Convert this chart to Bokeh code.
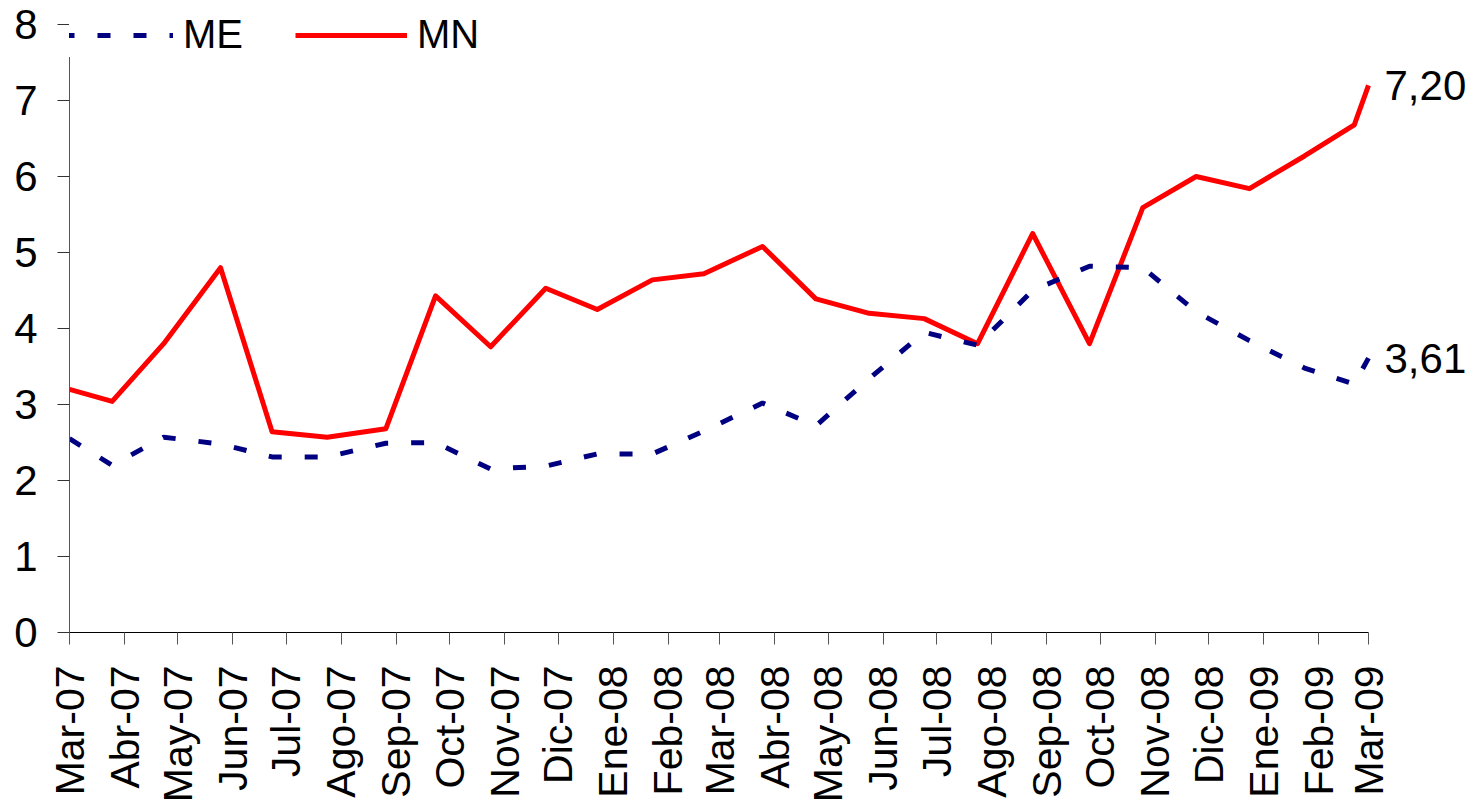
import math
import pandas as pd
from bokeh.plotting import figure
from bokeh.models import Range1d, FixedTicker, Legend, LegendItem, ColumnDataSource, LabelSet
from bokeh.core.properties import value
from bokeh.embed import file_html
from bokeh.resources import INLINE

# ---- data ----
tick_labels = ["Mar-07", "Abr-07", "May-07", "Jun-07", "Jul-07", "Ago-07", "Sep-07",
               "Oct-07", "Nov-07", "Dic-07", "Ene-08", "Feb-08", "Mar-08", "Abr-08",
               "May-08", "Jun-08", "Jul-08", "Ago-08", "Sep-08", "Oct-08", "Nov-08",
               "Dic-08", "Ene-09", "Feb-09", "Mar-09"]
tick_dates = ["2007-03-01", "2007-04-01", "2007-05-01", "2007-06-01", "2007-07-01",
              "2007-08-01", "2007-09-01", "2007-10-01", "2007-11-01", "2007-12-01",
              "2008-01-01", "2008-02-01", "2008-03-01", "2008-04-01", "2008-05-01",
              "2008-06-01", "2008-07-01", "2008-08-01", "2008-09-01", "2008-10-01",
              "2008-11-01", "2008-12-01", "2009-01-01", "2009-02-01", "2009-03-01"]

dates = ["2007-03-01", "2007-03-25", "2007-04-23", "2007-05-25", "2007-06-23",
         "2007-07-24", "2007-08-26", "2007-09-23", "2007-10-24", "2007-11-24",
         "2007-12-23", "2008-01-23", "2008-02-21", "2008-03-25", "2008-04-24",
         "2008-05-24", "2008-06-24", "2008-07-24", "2008-08-24", "2008-09-25",
         "2008-10-25", "2008-11-24", "2008-12-24", "2009-01-24", "2009-02-21",
         "2009-03-01"]
me = [2.55, 2.20, 2.57, 2.48, 2.31, 2.31, 2.49, 2.50, 2.15, 2.19, 2.35, 2.35, 2.65,
      3.02, 2.72, 3.34, 3.95, 3.78, 4.50, 4.82, 4.80, 4.22, 3.84, 3.48, 3.27, 3.61]
mn = [3.20, 3.04, 3.80, 4.80, 2.64, 2.57, 2.68, 4.43, 3.76, 4.53, 4.25, 4.64, 4.72,
      5.08, 4.39, 4.20, 4.13, 3.80, 5.25, 3.80, 5.59, 6.00, 5.84, 6.27, 6.68, 7.20]
y_ticks = [0, 1, 2, 3, 4, 5, 6, 7, 8]

EPOCH = pd.Timestamp("1970-01-01")
def to_days(ds):
    return [int((pd.Timestamp(d) - EPOCH).days) for d in ds]

x = to_days(dates)
tx = to_days(tick_dates)

FONT = "Liberation Sans"

AXIS_W = 1299          # px spanned by the dated axis
EXTRA_W = 100          # room on the right for the end labels
span = tx[-1] - tx[0]
x_end = tx[-1] + span * EXTRA_W / AXIS_W

PLOT_H = 608           # px spanned by 0..8
TOP_PAD = 24           # px above the value 8 (legend row)
y_top = y_ticks[-1]
y_end = y_top * (PLOT_H + TOP_PAD) / PLOT_H

p = figure(frame_width=AXIS_W + EXTRA_W, frame_height=PLOT_H + TOP_PAD,
           x_range=Range1d(tx[0], x_end), y_range=Range1d(0, y_end),
           output_backend="svg", toolbar_location=None,
           min_border_left=69, min_border_top=0, min_border_right=4,
           min_border_bottom=20)
p.outline_line_color = None
p.xgrid.visible = False
p.ygrid.visible = False
p.background_fill_color = "white"
p.border_fill_color = "white"

src = ColumnDataSource(dict(x=x, me=me, mn=mn))
r_mn = p.line("x", "mn", source=src, line_color="#FF0000", line_width=5,
              line_join="round")
r_me = p.line("x", "me", source=src, line_color="#000080", line_width=5,
              line_dash="13 23", line_cap="butt")

# end labels
lab_src = ColumnDataSource(dict(
    x=[x[-1], x[-1]], y=[mn[-1], me[-1]],
    t=[f"{mn[-1]:.2f}".replace(".", ","), f"{me[-1]:.2f}".replace(".", ",")]))
labels = LabelSet(x="x", y="y", text="t", source=lab_src, x_offset=16,
                  text_align="left", text_baseline="middle", text_font=value(FONT),
                  text_font_size=value("42px"), text_color="black")
p.add_layout(labels)

# axes
xa = p.xaxis[0]
xa.ticker = FixedTicker(ticks=tx)
xa.bounds = (tx[0], tx[-1])
xa.major_label_overrides = {t: l for t, l in zip(tx, tick_labels)}
xa.major_label_orientation = math.pi / 2
xa.major_label_text_font = FONT
xa.major_label_text_font_size = "41px"
xa.major_label_text_color = "black"
xa.major_tick_out = 12
xa.major_tick_in = 0
xa.minor_tick_out = 0
xa.minor_tick_in = 0
xa.major_label_standoff = 21
xa.axis_line_color = "black"
xa.major_tick_line_color = "#555555"

ya = p.yaxis[0]
ya.ticker = FixedTicker(ticks=y_ticks)
ya.bounds = (0, y_top)
ya.major_label_text_font = FONT
ya.major_label_text_font_size = "42px"
ya.major_label_text_color = "black"
ya.major_tick_out = 12
ya.major_tick_in = 0
ya.minor_tick_out = 0
ya.minor_tick_in = 0
ya.major_label_standoff = 20
ya.axis_line_color = "#555555"
ya.major_tick_line_color = "#333333"

legend = Legend(items=[LegendItem(label="ME", renderers=[r_me]),
                       LegendItem(label="MN", renderers=[r_mn])],
                orientation="horizontal", location=(-8, 575),
                label_text_font=FONT, label_text_font_size="40px",
                label_text_color="black", glyph_width=112, glyph_height=20,
                label_standoff=10, spacing=52, padding=10, margin=0,
                border_line_color=None, background_fill_color="white",
                background_fill_alpha=1.0)
p.add_layout(legend, "center")

open("out.html", "w").write(file_html(p, INLINE))
